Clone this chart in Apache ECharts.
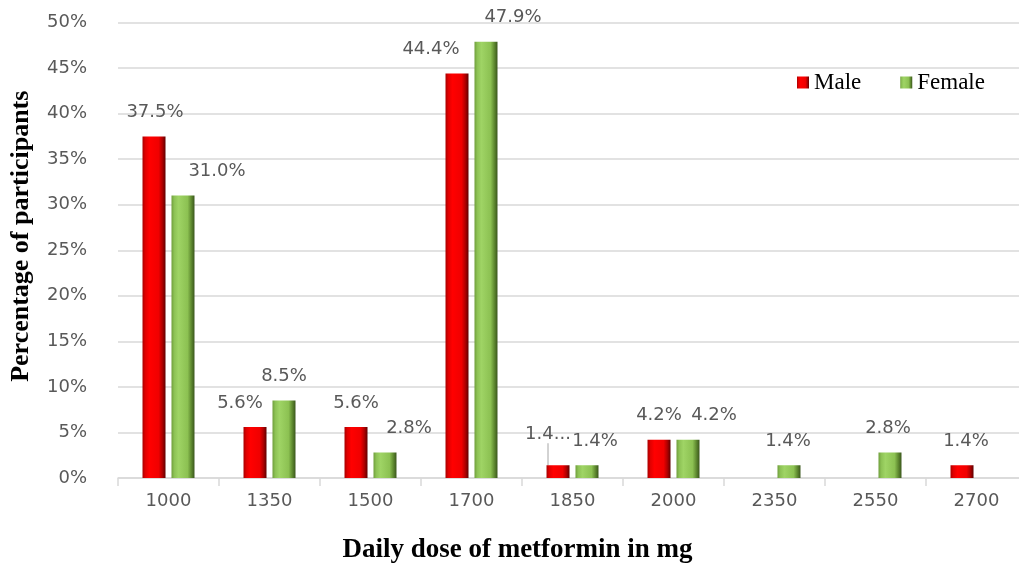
<!DOCTYPE html>
<html>
<head>
<meta charset="utf-8">
<script src="https://cdn.jsdelivr.net/npm/echarts@6/dist/echarts.min.js"></script>
<style>html,body{margin:0;padding:0;background:#fff}#c{width:1019px;height:569px}</style>
</head>
<body>
<div id="c"></div>
<script>
var categories = ['1000','1350','1500','1700','1850','2000','2350','2550','2700'];
var maleValues = [37.5, 5.6, 5.6, 44.4, 1.4, 4.2, null, null, 1.4];
var femaleValues = [31.0, 8.5, 2.8, 47.9, 1.4, 4.2, 1.4, 2.8, null];
var yTicks = [0, 5, 10, 15, 20, 25, 30, 35, 40, 45, 50];

// manual label nudges (px) as placed in the original
var maleDx = [1, -15, 0, -26, -10, 0, 0, 0, 4];
var maleDy = [0, 0, 0, 0, -7, 0, 0, 0, 0];
var femaleDx = [34, 0, 24, 27, 8, 26, -1, -2, 0];

var chart = echarts.init(document.getElementById('c'));

var redGrad = new echarts.graphic.LinearGradient(0, 0, 1, 0, [
  {offset: 0, color: '#a80000'},
  {offset: 0.12, color: '#e00000'},
  {offset: 0.3, color: '#ff0000'},
  {offset: 0.7, color: '#f00000'},
  {offset: 0.86, color: '#b00000'},
  {offset: 1, color: '#600000'}
]);
var greenGrad = new echarts.graphic.LinearGradient(0, 0, 1, 0, [
  {offset: 0, color: '#6f9e3c'},
  {offset: 0.12, color: '#8dc255'},
  {offset: 0.3, color: '#9fd465'},
  {offset: 0.7, color: '#8cc152'},
  {offset: 0.86, color: '#5f8a30'},
  {offset: 1, color: '#3a561c'}
]);

var labelFont = {fontFamily: 'DejaVu Sans', fontSize: 18, color: '#595959'};

var maleData = maleValues.map(function (v, i) {
  var d = {value: v};
  if (i === 4) {
    d.label = {formatter: '1.4...'};
    d.labelLine = {show: true, lineStyle: {color: '#a6a6a6', width: 1}};
  }
  return d;
});

chart.setOption({
  animation: false,
  backgroundColor: '#ffffff',
  grid: {left: 118, top: 22.5, width: 909, bottom: 91, containLabel: false, outerBoundsMode: 'none'},
  legend: {
    left: 792, top: 66,
    itemWidth: 12, itemHeight: 12, itemGap: 39,
    textStyle: {fontFamily: 'Liberation Serif', fontSize: 23, color: '#000'},
    data: [
      {name: 'Male', icon: 'rect', itemStyle: {color: redGrad}},
      {name: 'Female', icon: 'rect', itemStyle: {color: greenGrad}}
    ]
  },
  xAxis: {
    type: 'category',
    data: categories,
    name: 'Daily dose of metformin in mg',
    nameLocation: 'middle',
    nameGap: 59,
    nameTextStyle: {fontFamily: 'Liberation Serif', fontWeight: 'bold', fontSize: 27, color: '#000',
      padding: [0, 110, 0, 0]},
    axisLine: {lineStyle: {color: '#d9d9d9', width: 1.5}},
    axisTick: {show: true, length: 8, lineStyle: {color: '#d9d9d9', width: 1.5}},
    axisLabel: {fontFamily: 'DejaVu Sans', fontSize: 18, color: '#595959', margin: 14}
  },
  yAxis: {
    type: 'value',
    min: 0, max: 50, interval: 5,
    name: 'Percentage of participants',
    nameLocation: 'middle',
    nameGap: 84,
    nameTextStyle: {fontFamily: 'Liberation Serif', fontWeight: 'bold', fontSize: 26, color: '#000',
      padding: [0, 0, 0, 28]},
    axisLine: {show: false},
    axisTick: {show: false},
    splitLine: {lineStyle: {color: '#d9d9d9', width: 1.5}},
    axisLabel: {
      fontFamily: 'DejaVu Sans', fontSize: 18, color: '#595959', margin: 31,
      formatter: function (v) { return yTicks.indexOf(v) >= 0 ? v + '%' : ''; }
    }
  },
  series: [
    {
      name: 'Male', type: 'bar', data: maleData,
      barWidth: 23, barGap: '26%',
      itemStyle: {color: redGrad},
      label: Object.assign({show: true, position: 'top', distance: 15,
        formatter: function (p) { return p.value.toFixed(1) + '%'; }}, labelFont),
      labelLayout: function (p) { return {dx: maleDx[p.dataIndex], dy: maleDy[p.dataIndex]}; },
      labelLine: {show: false}
    },
    {
      name: 'Female', type: 'bar', data: femaleValues,
      barWidth: 23, barGap: '26%',
      itemStyle: {color: greenGrad},
      label: Object.assign({show: true, position: 'top', distance: 15,
        formatter: function (p) { return p.value.toFixed(1) + '%'; }}, labelFont),
      labelLayout: function (p) { return {dx: femaleDx[p.dataIndex]}; }
    }
  ]
});
</script>
</body>
</html>
